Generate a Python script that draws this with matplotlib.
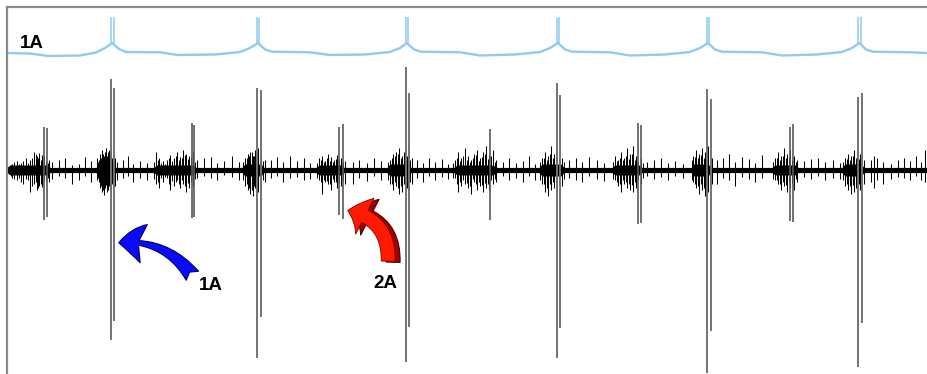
#!/usr/bin/env python3
# Extracellular recording with an intracellular 1A trace above it

import numpy as np
import matplotlib.pyplot as plt
from matplotlib.patches import FancyArrowPatch

# intracellular trace (1A), slow wave vertices: time, amplitude
blue_t = [0, 23, 41, 73, 89, 98, 105.3, 112, 119, 153, 171, 208, 233, 243, 251, 258, 265,
          303, 323, 358, 383, 393, 400, 407, 414, 453, 473, 508, 533, 543, 551, 558, 565,
          603, 623, 658, 683, 693, 701, 708, 715, 755, 775, 810, 835, 845, 852.5, 859, 866,
          903, 920]
blue_v = [-0.5, -1, -3.5, -3, 0, 4.5, 9.5, 3.5, 0.5, 0.2, -2.5, -2, 0.5, 4.5, 9.5, 3, 0.8,
          0.2, -2.5, -2, 0.5, 4.5, 9.5, 3, 0.8, 0.2, -3, -2, 0.5, 4.5, 9.5, 3, 0.8,
          0.2, -3, -2, 0.5, 4.5, 9.5, 3, 0.8, 0.2, -3, -2, 0.5, 4.5, 9.5, 3, 0.8,
          0.2, -0.5]
blue_spk_t = [104, 106.5, 249.7, 252.3, 399, 401.3, 549.7, 552.3, 699.7, 702.3, 851.3, 854]
blue_spk_up = [35.5, 35.5, 35.5, 35, 35.5, 35.5, 35, 35.5, 36, 35.5, 35.5, 35.5]
blue_spk_base = 9.5

# extracellular: large unit (1A)
big_t = [103.7, 107, 250.3, 253.7, 399, 402.3, 549.7, 553, 700.3, 703.7, 851.3, 854.7]
big_up = [91, 82, 82, 80, 103, 77, 87, 75, 81, 71, 73, 77]
big_dn = [170, 151, 188, 147, 192, 157, 188, 158, 203, 161, 197, 153]

# extracellular: medium unit (2A)
med_t = [37.3, 40.3, 184.7, 187, 332.3, 336.3, 483, 631.3, 634, 783, 785.7]
med_up = [43, 42, 47, 45, 43, 46, 41, 47, 45, 43, 46]
med_dn = [50, 47, 48, 47, 45, 49, 50, 54, 53, 51, 52]

# small units / background activity
small_t = [5, 10, 14, 19, 23, 27, 30, 32, 35, 42, 45,
           52, 58, 65, 72, 78, 84,
           90, 93, 95, 97, 99, 101, 104, 108, 110,
           116, 121, 126, 133, 140,
           149, 152, 156, 160, 163, 167, 170, 173, 176, 179, 182, 186, 190,
           197, 204, 210, 217, 225, 232,
           238, 241, 243, 246, 248, 251, 254, 258,
           264, 270, 276, 283, 290, 297, 303,
           312, 315, 318, 321, 324, 327, 330, 334, 338,
           346, 352, 360, 367, 374,
           383, 386, 389, 392, 395, 398, 401, 405,
           410, 416, 422, 428, 435, 441,
           448, 451, 454, 458, 461, 464, 467, 470, 473, 476, 479, 482, 486, 489,
           496, 502, 509, 516, 522, 528,
           535, 538, 541, 544, 547, 550, 555,
           562, 569, 575, 582, 590, 597,
           608, 611, 614, 617, 620, 623, 626, 629, 634,
           640, 647, 654, 661, 668, 676,
           686, 689, 692, 695, 698, 701, 705,
           710, 716, 722, 728, 735, 742, 748, 755,
           768, 771, 774, 777, 780, 783, 787, 790,
           797, 804, 811, 818, 826, 833,
           838, 841, 844, 847, 850, 853, 857,
           864, 867, 870, 876, 884, 891, 897, 903, 909, 914, 918]
small_up = [6, 9, 7, 12, 10, 18, 14, 17, 15, 10, 8,
            10, 12, 5, 6, 13, 9,
            12, 16, 20, 14, 22, 18, 25, 12, 8,
            10, 14, 6, 9, 7,
            18, 12, 9, 10, 15, 12, 18, 13, 20, 16, 14, 18, 10,
            12, 13, 7, 9, 14, 8,
            12, 16, 18, 14, 20, 22, 16, 10,
            10, 13, 8, 14, 9, 12, 7,
            12, 14, 9, 16, 13, 10, 15, 12, 9,
            8, 10, 7, 12, 9,
            10, 16, 18, 22, 14, 20, 24, 12,
            10, 7, 12, 8, 11, 6,
            10, 18, 12, 22, 14, 10, 16, 20, 12, 18, 24, 15, 20, 10,
            8, 12, 7, 9, 14, 6,
            12, 18, 14, 24, 16, 20, 12,
            10, 12, 8, 13, 10, 7,
            14, 10, 18, 12, 22, 16, 24, 14, 12,
            8, 10, 12, 7, 9, 6,
            14, 20, 16, 22, 18, 24, 12,
            10, 12, 16, 8, 13, 11, 7, 15,
            12, 18, 14, 22, 16, 20, 14, 10,
            9, 11, 12, 8, 10, 7,
            12, 16, 14, 20, 18, 16, 10,
            10, 14, 12, 8, 6, 10, 12, 9, 14, 8, 20]
small_dn = [8, 10, 12, 9, 22, 14, 20, 16, 17, 12, 9,
            6, 8, 14, 10, 6, 12,
            10, 18, 22, 25, 15, 20, 24, 16, 10,
            8, 6, 12, 8, 10,
            14, 18, 12, 8, 20, 16, 10, 18, 14, 22, 18, 16, 8,
            6, 8, 10, 5, 7, 10,
            16, 20, 24, 26, 18, 22, 20, 12,
            8, 6, 12, 8, 7, 10, 9,
            10, 24, 12, 14, 20, 12, 18, 16, 14,
            14, 8, 11, 6, 10,
            14, 20, 16, 24, 22, 18, 26, 14,
            8, 12, 6, 10, 7, 9,
            8, 22, 16, 14, 18, 24, 12, 20, 16, 22, 18, 20, 14, 12,
            6, 10, 8, 12, 6, 10,
            14, 22, 26, 20, 18, 24, 16,
            8, 10, 12, 6, 9, 11,
            10, 16, 22, 14, 18, 20, 22, 18, 14,
            6, 9, 7, 10, 6, 8,
            12, 18, 24, 20, 26, 22, 14,
            14, 8, 10, 16, 7, 9, 12, 8,
            10, 14, 20, 16, 22, 18, 20, 12,
            7, 9, 6, 10, 8, 9,
            16, 20, 24, 22, 26, 20, 14,
            12, 18, 10, 14, 9, 7, 8, 10, 6, 10, 12]

# dense low-amplitude activity inside the bursts
fine_t = [4, 7, 12, 16, 21, 25, 28.5, 31, 33.5, 36.5, 38.5, 41,
          91, 92, 94, 96, 98, 100, 102, 103, 105, 106.5,
          147, 150.5, 154, 158, 161.5, 165, 168.5, 171.5, 174.5, 177.5, 180.5, 184, 188,
          236, 239.5, 242, 244.5, 247, 249.5, 252.5, 256,
          310, 313.5, 316.5, 319.5, 322.5, 325.5, 328.5, 332, 336,
          381, 384.5, 387.5, 390.5, 393.5, 396.5, 399.5, 403,
          446, 449.5, 452.5, 456, 459.5, 462.5, 465.5, 468.5, 471.5, 474.5, 477.5, 480.5, 484, 487.5,
          533, 536.5, 539.5, 542.5, 545.5, 548.5, 552, 557,
          606, 609.5, 612.5, 615.5, 618.5, 621.5, 624.5, 627.5, 631, 636,
          685, 687.5, 690.5, 693.5, 696.5, 699.5, 703,
          766, 769.5, 772.5, 775.5, 778.5, 781.5, 785, 788.5,
          836, 839.5, 842.5, 845.5, 848.5, 851.5, 855]
fine_up = [5, 8, 6, 9, 7, 12, 16, 12, 10, 14, 9, 7,
           8, 10, 12, 16, 18, 14, 20, 16, 12, 10,
           8, 10, 7, 6, 12, 9, 14, 10, 12, 15, 11, 13, 8,
           8, 12, 14, 18, 14, 16, 12, 9,
           7, 10, 8, 12, 9, 8, 11, 10, 8,
           8, 12, 14, 16, 12, 18, 14, 10,
           7, 12, 9, 14, 10, 8, 12, 15, 9, 13, 16, 11, 14, 8,
           8, 12, 10, 16, 12, 14, 10, 8,
           8, 9, 12, 10, 14, 11, 16, 10, 9, 7,
           10, 13, 12, 15, 12, 16, 10,
           8, 12, 10, 14, 12, 13, 10, 8,
           8, 11, 10, 14, 12, 11, 9]
fine_dn = [6, 9, 8, 14, 10, 16, 12, 18, 14, 10, 12, 8,
           8, 12, 16, 20, 18, 22, 16, 20, 14, 12,
           9, 12, 8, 7, 14, 11, 12, 14, 10, 16, 13, 12, 9,
           10, 14, 18, 20, 16, 18, 14, 10,
           8, 12, 10, 11, 14, 9, 12, 13, 10,
           10, 14, 12, 18, 16, 14, 18, 12,
           8, 14, 12, 10, 13, 16, 9, 14, 12, 15, 13, 14, 10, 9,
           10, 14, 18, 14, 12, 16, 12, 9,
           9, 12, 14, 10, 12, 14, 15, 12, 10, 8,
           10, 14, 16, 14, 18, 15, 12,
           9, 10, 14, 12, 15, 12, 14, 9,
           10, 14, 16, 15, 18, 14, 11]

# bursts of background activity: start, end, half-thickness of the dense core
burst_start = [3, 92, 150, 238, 312, 383, 450, 535, 608, 687, 768, 838]
burst_end = [40, 106, 186, 254, 334, 401, 486, 554, 632, 701, 788, 854]
burst_w = [5, 6, 5, 6, 5, 6, 5, 6, 5, 6, 5, 6]
quiet_w = 2.6

BLUE_OFF = 117.5
BLUE = '#8ecaf3'

fig = plt.figure(figsize=(9.27, 3.74), dpi=100)
ax = fig.add_axes([7/927, 0, 920/927, 367/374])
ax.set_xlim(0, 920)
ax.set_ylim(-204, 163)
ax.set_xticks([])
ax.set_yticks([])
for s in ['right', 'bottom']:
    ax.spines[s].set_visible(False)
for s in ['left', 'top']:
    ax.spines[s].set_color('#8a8a8a')
    ax.spines[s].set_linewidth(1.6)

# baseline band
env_t, env_w = [0], [quiet_w]
for a, b, w in zip(burst_start, burst_end, burst_w):
    env_t += [a - 3, a, b, b + 3]
    env_w += [quiet_w, w, w, quiet_w]
env_t.append(920)
env_w.append(quiet_w)
env_w = np.array(env_w)
ax.fill_between(env_t, -env_w, env_w, color='k', lw=0)

ax.vlines(fine_t, -np.array(fine_dn), fine_up, color='k', lw=0.7)
ax.vlines(small_t, -np.array(small_dn), small_up, color='k', lw=0.75)
ax.vlines(med_t, -np.array(med_dn), med_up, color='0.35', lw=1.2)
ax.vlines(big_t, -np.array(big_dn), big_up, color='0.45', lw=1.4)

# 1A intracellular
ax.plot(blue_t, np.array(blue_v) + BLUE_OFF, color=BLUE, lw=1.7)
ax.vlines(blue_spk_t, BLUE_OFF + blue_spk_base, BLUE_OFF + np.array(blue_spk_up), color=BLUE, lw=1.1)

lab = dict(fontsize=13.5, fontweight='bold', family='Liberation Sans', color='k')
ax.text(13, 127, '1A', va='center', ha='left', **lab)
ax.text(204, -116, '1A', va='center', ha='center', **lab)
ax.text(378, -114, '2A', va='center', ha='center', **lab)

# arrows
blue_arrow = FancyArrowPatch((187, -108), (109, -73), connectionstyle='arc3,rad=0.3',
                             arrowstyle='fancy,head_length=18,head_width=28,tail_width=11',
                             mutation_scale=1, fc='#0a0aff', ec='#00005a', lw=0.8)
ax.add_patch(blue_arrow)
red_back = FancyArrowPatch((386, -95), (343, -41), connectionstyle='arc3,rad=0.45',
                           arrowstyle='simple,head_length=13,head_width=29,tail_width=10',
                           mutation_scale=1, fc='#a00000', ec='#500000', lw=0.8)
ax.add_patch(red_back)
red_front = FancyArrowPatch((381, -94), (338, -40), connectionstyle='arc3,rad=0.45',
                            arrowstyle='simple,head_length=13,head_width=29,tail_width=10',
                            mutation_scale=1, fc='#ff1a00', ec='#7a0000', lw=0.6)
ax.add_patch(red_front)

fig.savefig('out.png', dpi=100)
